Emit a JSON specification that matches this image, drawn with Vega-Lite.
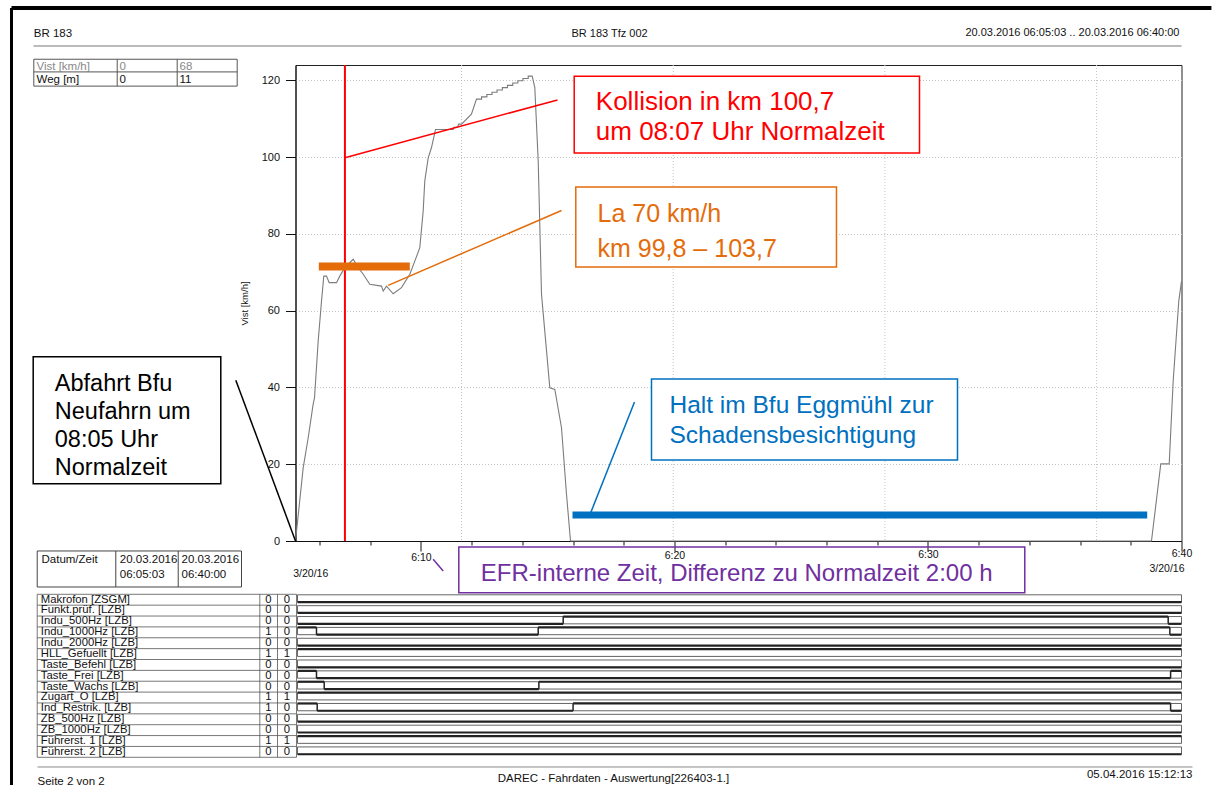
{
  "$schema": "https://vega.github.io/schema/vega-lite/v6.json",
  "padding": {"left": 8.5, "top": 5, "right": 0, "bottom": 0},
  "background": "white",
  "bounds": "flush",
  "spacing": 53.3,
  "config": {"font": "Liberation Sans", "view": {"stroke": null}},
  "datasets": {
    "speed": [
      {"t":5.05,"v":0},{"t":5.354,"v":19.1},{"t":5.551,"v":26.9},{"t":5.748,"v":35.7},{"t":5.8,"v":37.3},{"t":5.945,"v":52.1},{"t":6.076,"v":62.5},{"t":6.166,"v":69.0},{"t":6.273,"v":69.0},{"t":6.379,"v":67.3},{"t":6.667,"v":67.3},{"t":6.797,"v":69.0},{"t":6.995,"v":71.2},{"t":7.326,"v":73.4},{"t":7.523,"v":71.2},{"t":7.721,"v":69.5},{"t":7.981,"v":66.9},{"t":8.443,"v":66.4},{"t":8.51,"v":65.1},{"t":8.64,"v":66.4},{"t":8.904,"v":64.4},{"t":9.231,"v":66.0},{"t":9.559,"v":69.5},{"t":9.756,"v":72.9},{"t":9.953,"v":76.4},{"t":10.087,"v":86.0},{"t":10.15,"v":93.8},{"t":10.285,"v":99.8},{"t":10.415,"v":102.5},{"t":10.573,"v":107.2},{"t":11.27,"v":107.2},{"t":11.3,"v":107.8},{"t":11.45,"v":107.8},{"t":11.48,"v":108.6},{"t":11.6,"v":108.6},{"t":11.99,"v":111.2},{"t":12.19,"v":115.1},
      {"t":12.39,"v":115.1},{"t":12.39,"v":115.7},{"t":12.6,"v":115.7},{"t":12.6,"v":116.3},{"t":12.8,"v":116.3},{"t":12.8,"v":116.9},{"t":13.0,"v":116.9},{"t":13.0,"v":117.5},{"t":13.21,"v":117.5},{"t":13.21,"v":118.1},{"t":13.41,"v":118.1},{"t":13.41,"v":118.7},{"t":13.62,"v":118.7},{"t":13.62,"v":119.3},{"t":13.82,"v":119.3},{"t":13.82,"v":119.9},{"t":14.02,"v":119.9},{"t":14.02,"v":120.5},{"t":14.23,"v":120.5},{"t":14.23,"v":121.1},{"t":14.387,"v":121.1},
      {"t":14.49,"v":118.1},{"t":14.624,"v":99.0},{"t":14.754,"v":64.3},{"t":15.082,"v":39.9},{"t":15.28,"v":39.5},{"t":15.543,"v":29.5},{"t":15.74,"v":12.2},{"t":15.898,"v":0},{"t":38.816,"v":0},{"t":39.183,"v":20.1},{"t":39.515,"v":20.1},{"t":39.672,"v":41.7},{"t":39.893,"v":62.5},{"t":40.0,"v":67.7}
    ],
    "xgrid": [{"t":11.6},{"t":19.95},{"t":28.3},{"t":36.65}],
    "signals": [
      {"row":0,"name":"Makrofon [ZSGM]","v1":"0","v2":"0"},
      {"row":1,"name":"Funkt.prüf. [LZB]","v1":"0","v2":"0"},
      {"row":2,"name":"Indu_500Hz [LZB]","v1":"0","v2":"0"},
      {"row":3,"name":"Indu_1000Hz [LZB]","v1":"1","v2":"0"},
      {"row":4,"name":"Indu_2000Hz [LZB]","v1":"0","v2":"0"},
      {"row":5,"name":"HLL_Gefuellt [LZB]","v1":"1","v2":"1"},
      {"row":6,"name":"Taste_Befehl [LZB]","v1":"0","v2":"0"},
      {"row":7,"name":"Taste_Frei [LZB]","v1":"0","v2":"0"},
      {"row":8,"name":"Taste_Wachs [LZB]","v1":"0","v2":"0"},
      {"row":9,"name":"Zugart_O [LZB]","v1":"1","v2":"1"},
      {"row":10,"name":"Ind_Restrik. [LZB]","v1":"1","v2":"0"},
      {"row":11,"name":"ZB_500Hz [LZB]","v1":"0","v2":"0"},
      {"row":12,"name":"ZB_1000Hz [LZB]","v1":"0","v2":"0"},
      {"row":13,"name":"Führerst. 1 [LZB]","v1":"1","v2":"1"},
      {"row":14,"name":"Führerst. 2 [LZB]","v1":"0","v2":"0"}
    ],
    "seg": [
      {"row":0,"t1":5.13,"t2":40,"lvl":0},
      {"row":1,"t1":5.13,"t2":40,"lvl":0},
      {"row":2,"t1":5.13,"t2":15.61,"lvl":0},{"row":2,"t1":15.61,"t2":39.475,"lvl":1},{"row":2,"t1":39.475,"t2":40,"lvl":0},
      {"row":3,"t1":5.13,"t2":5.878,"lvl":1},{"row":3,"t1":5.878,"t2":14.624,"lvl":0},{"row":3,"t1":14.624,"t2":39.54,"lvl":1},{"row":3,"t1":39.54,"t2":40,"lvl":0},
      {"row":4,"t1":5.13,"t2":40,"lvl":0},
      {"row":5,"t1":5.13,"t2":40,"lvl":1},
      {"row":6,"t1":5.13,"t2":40,"lvl":0},
      {"row":7,"t1":5.13,"t2":5.878,"lvl":1},{"row":7,"t1":5.878,"t2":39.57,"lvl":0},{"row":7,"t1":39.57,"t2":40,"lvl":1},
      {"row":8,"t1":5.13,"t2":6.182,"lvl":1},{"row":8,"t1":6.182,"t2":14.65,"lvl":0},{"row":8,"t1":14.65,"t2":40,"lvl":1},
      {"row":9,"t1":5.13,"t2":40,"lvl":1},
      {"row":10,"t1":5.13,"t2":5.906,"lvl":1},{"row":10,"t1":5.906,"t2":16.0,"lvl":0},{"row":10,"t1":16.0,"t2":39.57,"lvl":1},{"row":10,"t1":39.57,"t2":40,"lvl":0},
      {"row":11,"t1":5.13,"t2":40,"lvl":0},
      {"row":12,"t1":5.13,"t2":40,"lvl":0},
      {"row":13,"t1":5.13,"t2":40,"lvl":1},
      {"row":14,"t1":5.13,"t2":40,"lvl":0}
    ],
    "trans": [
      {"row":2,"t":15.61},{"row":2,"t":39.475},
      {"row":3,"t":5.878},{"row":3,"t":14.624},{"row":3,"t":39.54},
      {"row":7,"t":5.878},{"row":7,"t":39.57},
      {"row":8,"t":6.182},{"row":8,"t":14.65},
      {"row":10,"t":5.906},{"row":10,"t":16.0},{"row":10,"t":39.57}
    ]
  },
  "vconcat": [
    {
      "width": 886,
      "height": 476,
      "view": {"stroke": "#222", "strokeWidth": 1},
      "data": {"values": [{}]},
      "layer": [
        {
          "data": {"name": "xgrid"},
          "mark": {"type": "rule", "color": "#c4c4c4", "strokeDash": [1, 2], "strokeWidth": 1},
          "encoding": {"x": {"field": "t", "type": "quantitative", "title": null}}
        },
        {
          "data": {"name": "speed"},
          "mark": {"type": "line", "color": "#7c7c7c", "strokeWidth": 1.1},
          "encoding": {
            "x": {
              "field": "t", "type": "quantitative", "title": null,
              "scale": {"domain": [5.05, 40], "nice": false, "zero": false},
              "axis": {
                "values": [6,7,8,9,10,11,12,13,14,15,16,17,18,19,20,21,22,23,24,25,26,27,28,29,30,31,32,33,34,35,36,37,38,39,40],
                "labelExpr": "datum.value % 10 === 0 ? '6:' + datum.value : ''",
                "tickSize": {"condition": [{"test": "datum.value % 10 === 0", "value": 10}, {"test": "datum.value % 5 === 0", "value": 7}], "value": 4},
                "labelPadding": {"condition": [{"test": "datum.value >= 40", "value": -3}, {"test": "datum.value >= 30", "value": -2}, {"test": "datum.value >= 20", "value": -1}], "value": 1},
                "tickColor": "#111", "domainColor": "#111", "labelColor": "#111",
                "labelFontSize": 10.5, "labelFlush": false, "labelOverlap": false,
                "grid": false, "title": null
              }
            },
            "y": {
              "field": "v", "type": "quantitative", "title": "Vist [km/h]",
              "scale": {"domain": [0, 124], "nice": false},
              "axis": {
                "values": [0,5,10,15,20,25,30,35,40,45,50,55,60,65,70,75,80,85,90,95,100,105,110,115,120],
                "labelExpr": "datum.value % 20 === 0 ? datum.label : ''",
                "tickSize": {"condition": {"test": "datum.value % 20 === 0", "value": 10}, "value": 5},
                "grid": true, "gridColor": "#c4c4c4", "gridDash": [1, 2],
                "gridOpacity": {"condition": {"test": "datum.value % 20 === 0 && datum.value > 0", "value": 1}, "value": 0},
                "tickColor": "#111", "domainColor": "#111", "labelColor": "#111",
                "labelFontSize": 11, "labelPadding": 6, "labelOverlap": false,
                "titleFontSize": 9.5, "titleFontWeight": "normal", "titleColor": "#111", "titlePadding": 12
              }
            },
            "order": {"value": null}
          }
        },
        {
          "mark": {"type": "rule", "color": "#FF0000", "strokeWidth": 2},
          "encoding": {"x": {"datum": 7.0}}
        },
        {
          "mark": {"type": "rule", "color": "#FF0000", "strokeWidth": 1.5},
          "encoding": {"x": {"datum": 7.0}, "y": {"datum": 99.85}, "x2": {"datum": 15.385}, "y2": {"datum": 114.9}}
        },
        {
          "mark": {"type": "rect", "fill": "white", "stroke": "#FF0000", "strokeWidth": 1.5},
          "encoding": {"x": {"datum": 16.044}, "x2": {"datum": 29.665}, "y": {"datum": 121.1}, "y2": {"datum": 101.1}}
        },
        {
          "mark": {"type": "text", "text": ["Kollision in km 100,7", "um 08:07 Uhr Normalzeit"], "align": "left", "baseline": "alphabetic", "fontSize": 26, "lineHeight": 30, "color": "#FF0000"},
          "encoding": {"x": {"datum": 16.896}, "y": {"datum": 112.2}}
        },
        {
          "mark": {"type": "rule", "color": "#E46C0A", "strokeWidth": 8},
          "encoding": {"x": {"datum": 5.969}, "x2": {"datum": 9.559}, "y": {"datum": 71.5}}
        },
        {
          "mark": {"type": "rule", "color": "#E46C0A", "strokeWidth": 1.5},
          "encoding": {"x": {"datum": 8.707}, "y": {"datum": 66.6}, "x2": {"datum": 15.543}, "y2": {"datum": 86.1}}
        },
        {
          "mark": {"type": "rect", "fill": "white", "stroke": "#E46C0A", "strokeWidth": 1.5},
          "encoding": {"x": {"datum": 16.107}, "x2": {"datum": 26.39}, "y": {"datum": 92.2}, "y2": {"datum": 71.4}}
        },
        {
          "mark": {"type": "text", "text": ["La 70 km/h", "km 99,8 – 103,7"], "align": "left", "baseline": "alphabetic", "fontSize": 25, "lineHeight": 35, "color": "#E46C0A"},
          "encoding": {"x": {"datum": 16.963}, "y": {"datum": 83.23}}
        },
        {
          "mark": {"type": "rule", "color": "#0070C0", "strokeWidth": 7},
          "encoding": {"x": {"datum": 15.977}, "x2": {"datum": 38.647}, "y": {"datum": 6.77}}
        },
        {
          "mark": {"type": "rule", "color": "#0070C0", "strokeWidth": 1.5},
          "encoding": {"x": {"datum": 16.659}, "y": {"datum": 6.77}, "x2": {"datum": 18.423}, "y2": {"datum": 36.2}}
        },
        {
          "mark": {"type": "rect", "fill": "white", "stroke": "#0070C0", "strokeWidth": 1.5},
          "encoding": {"x": {"datum": 19.093}, "x2": {"datum": 31.164}, "y": {"datum": 42.2}, "y2": {"datum": 21.1}}
        },
        {
          "mark": {"type": "text", "text": ["Halt im Bfu Eggmühl zur", "Schadensbesichtigung"], "align": "left", "baseline": "alphabetic", "fontSize": 24.5, "lineHeight": 30, "color": "#0070C0"},
          "encoding": {"x": {"datum": 19.803}, "y": {"datum": 33.4}}
        },
        {
          "mark": {"type": "rule", "color": "#000", "strokeWidth": 1.5},
          "encoding": {"x": {"datum": 2.695}, "y": {"datum": 41.9}, "x2": {"datum": 5.05}, "y2": {"datum": 0}}
        },
        {
          "mark": {"type": "rect", "fill": "white", "stroke": "#000", "strokeWidth": 1.5},
          "encoding": {"x": {"datum": -5.297}, "x2": {"datum": 2.103}, "y": {"datum": 48.0}, "y2": {"datum": 14.9}}
        },
        {
          "mark": {"type": "text", "text": ["Abfahrt Bfu", "Neufahrn um", "08:05 Uhr", "Normalzeit"], "align": "left", "baseline": "alphabetic", "fontSize": 23.5, "lineHeight": 27.8, "color": "#000"},
          "encoding": {"x": {"datum": -4.445}, "y": {"datum": 39.02}}
        },
        {
          "mark": {"type": "rule", "color": "#7030A0", "strokeWidth": 1.5},
          "encoding": {"x": {"datum": 10.48}, "y": {"datum": -4.77}, "x2": {"datum": 10.876}, "y2": {"datum": -7.8}}
        },
        {
          "mark": {"type": "rect", "fillOpacity": 0, "fill": "white", "stroke": "#7030A0", "strokeWidth": 1.5},
          "encoding": {"x": {"datum": 11.492}, "x2": {"datum": 33.818}, "y": {"datum": -1.56}, "y2": {"datum": -13.47}}
        },
        {
          "mark": {"type": "text", "text": "EFR-interne Zeit, Differenz zu Normalzeit 2:00 h", "align": "left", "baseline": "alphabetic", "fontSize": 24, "color": "#7030A0"},
          "encoding": {"x": {"datum": 12.36}, "y": {"datum": -10.3}}
        },
        {
          "mark": {"type": "text", "text": "3/20/16", "align": "left", "baseline": "alphabetic", "fontSize": 10.5, "color": "#111"},
          "encoding": {"x": {"datum": 4.959}, "y": {"datum": -9.25}}
        },
        {
          "mark": {"type": "text", "text": "3/20/16", "align": "right", "baseline": "alphabetic", "fontSize": 10.5, "color": "#111"},
          "encoding": {"x": {"datum": 40.118}, "y": {"datum": -8.1}}
        },
        {
          "mark": {"type": "rect", "fillOpacity": 0, "fill": "white", "stroke": "#555", "strokeWidth": 1},
          "encoding": {"x": {"datum": -5.273}, "x2": {"datum": 2.75}, "y": {"datum": 125.5}, "y2": {"datum": 118.5}}
        },
        {
          "mark": {"type": "rule", "color": "#555", "strokeWidth": 1},
          "encoding": {"x": {"datum": -5.273}, "x2": {"datum": 2.75}, "y": {"datum": 122.2}}
        },
        {
          "mark": {"type": "rule", "color": "#555", "strokeWidth": 1},
          "encoding": {"x": {"datum": -1.983}, "y": {"datum": 125.5}, "y2": {"datum": 118.5}}
        },
        {
          "mark": {"type": "rule", "color": "#555", "strokeWidth": 1},
          "encoding": {"x": {"datum": 0.383}, "y": {"datum": 125.5}, "y2": {"datum": 118.5}}
        },
        {
          "mark": {"type": "text", "text": "Vist [km/h]", "align": "left", "baseline": "alphabetic", "fontSize": 11.5, "color": "#888"},
          "encoding": {"x": {"datum": -5.167}, "y": {"datum": 122.7}}
        },
        {
          "mark": {"type": "text", "text": "0", "align": "left", "baseline": "alphabetic", "fontSize": 11.5, "color": "#888"},
          "encoding": {"x": {"datum": -1.893}, "y": {"datum": 122.7}}
        },
        {
          "mark": {"type": "text", "text": "68", "align": "left", "baseline": "alphabetic", "fontSize": 11.5, "color": "#888"},
          "encoding": {"x": {"datum": 0.474}, "y": {"datum": 122.7}}
        },
        {
          "mark": {"type": "text", "text": "Weg [m]", "align": "left", "baseline": "alphabetic", "fontSize": 11.5, "color": "#111"},
          "encoding": {"x": {"datum": -5.167}, "y": {"datum": 119.3}}
        },
        {
          "mark": {"type": "text", "text": "0", "align": "left", "baseline": "alphabetic", "fontSize": 11.5, "color": "#111"},
          "encoding": {"x": {"datum": -1.893}, "y": {"datum": 119.3}}
        },
        {
          "mark": {"type": "text", "text": "11", "align": "left", "baseline": "alphabetic", "fontSize": 11.5, "color": "#111"},
          "encoding": {"x": {"datum": 0.474}, "y": {"datum": 119.3}}
        },
        {
          "mark": {"type": "rect", "fillOpacity": 0, "fill": "white", "stroke": "#444", "strokeWidth": 1},
          "encoding": {"x": {"datum": -5.139}, "x2": {"datum": 2.92}, "y": {"datum": -2.6}, "y2": {"datum": -11.98}}
        },
        {
          "mark": {"type": "rule", "color": "#444", "strokeWidth": 1},
          "encoding": {"x": {"datum": -2.039}, "y": {"datum": -2.6}, "y2": {"datum": -11.98}}
        },
        {
          "mark": {"type": "rule", "color": "#444", "strokeWidth": 1},
          "encoding": {"x": {"datum": 0.423}, "y": {"datum": -2.6}, "y2": {"datum": -11.98}}
        },
        {
          "mark": {"type": "text", "text": "Datum/Zeit", "align": "left", "baseline": "alphabetic", "fontSize": 11.5, "color": "#111"},
          "encoding": {"x": {"datum": -4.97}, "y": {"datum": -5.84}}
        },
        {
          "mark": {"type": "text", "text": ["20.03.2016", "06:05:03"], "align": "left", "baseline": "alphabetic", "fontSize": 11.5, "lineHeight": 15, "color": "#111"},
          "encoding": {"x": {"datum": -1.88}, "y": {"datum": -5.84}}
        },
        {
          "mark": {"type": "text", "text": ["20.03.2016", "06:40:00"], "align": "left", "baseline": "alphabetic", "fontSize": 11.5, "lineHeight": 15, "color": "#111"},
          "encoding": {"x": {"datum": 0.553}, "y": {"datum": -5.84}}
        },
        {
          "mark": {"type": "text", "text": "BR 183", "align": "left", "baseline": "alphabetic", "fontSize": 11.5, "color": "#111"},
          "encoding": {"x": {"datum": -5.273}, "y": {"datum": 131.2}}
        },
        {
          "mark": {"type": "text", "text": "BR 183 Tfz 002", "align": "center", "baseline": "alphabetic", "fontSize": 11, "color": "#111"},
          "encoding": {"x": {"datum": 17.44}, "y": {"datum": 131.2}}
        },
        {
          "mark": {"type": "text", "text": "20.03.2016 06:05:03 .. 20.03.2016 06:40:00", "align": "right", "baseline": "alphabetic", "fontSize": 11, "color": "#111"},
          "encoding": {"x": {"datum": 39.92}, "y": {"datum": 131.5}}
        },
        {
          "mark": {"type": "rule", "color": "#777", "strokeWidth": 1},
          "encoding": {"x": {"datum": -5.285}, "x2": {"datum": 40.0}, "y": {"datum": 128.95}}
        },
        {
          "mark": {"type": "rule", "color": "#000", "strokeWidth": 4},
          "encoding": {"x": {"datum": -6.153}, "x2": {"datum": 41.18}, "y": {"datum": 138.85}}
        },
        {
          "mark": {"type": "rule", "color": "#000", "strokeWidth": 3},
          "encoding": {"x": {"datum": -6.153}, "y": {"datum": 138.85}, "y2": {"datum": -63.56}}
        }
      ]
    },
    {
      "width": 886,
      "height": 163,
      "view": {"stroke": null},
      "data": {"values": [{}]},
      "layer": [
        {
          "data": {"name": "signals"},
          "mark": {"type": "rule", "color": "#555", "strokeWidth": 0.8},
          "encoding": {
            "x": {"datum": -5.139, "scale": {"domain": [5.05, 40], "nice": false, "zero": false}, "axis": null},
            "x2": {"datum": 5.09},
            "y": {"field": "row", "type": "quantitative", "scale": {"domain": [0, 15], "reverse": true, "nice": false, "zero": false}, "axis": null}
          }
        },
        {
          "mark": {"type": "rule", "color": "#555", "strokeWidth": 0.8},
          "encoding": {"x": {"datum": -5.139, "axis": null}, "x2": {"datum": 5.09}, "y": {"datum": 15, "axis": null}}
        },
        {
          "mark": {"type": "rule", "color": "#555", "strokeWidth": 0.8},
          "encoding": {"x": {"datum": -5.139, "axis": null}, "y": {"datum": 0, "axis": null}, "y2": {"datum": 15}}
        },
        {
          "mark": {"type": "rule", "color": "#555", "strokeWidth": 0.8},
          "encoding": {"x": {"datum": 3.642, "axis": null}, "y": {"datum": 0, "axis": null}, "y2": {"datum": 15}}
        },
        {
          "mark": {"type": "rule", "color": "#555", "strokeWidth": 0.8},
          "encoding": {"x": {"datum": 4.34, "axis": null}, "y": {"datum": 0, "axis": null}, "y2": {"datum": 15}}
        },
        {
          "mark": {"type": "rule", "color": "#555", "strokeWidth": 0.8},
          "encoding": {"x": {"datum": 5.09, "axis": null}, "y": {"datum": 0, "axis": null}, "y2": {"datum": 15}}
        },
        {
          "data": {"name": "signals"},
          "mark": {"type": "text", "align": "left", "baseline": "middle", "fontSize": 11.3, "color": "#111", "yOffset": 5.3},
          "encoding": {"x": {"datum": -4.997, "axis": null}, "y": {"field": "row", "type": "quantitative", "axis": null}, "text": {"field": "name"}}
        },
        {
          "data": {"name": "signals"},
          "mark": {"type": "text", "align": "center", "baseline": "middle", "fontSize": 11.3, "color": "#111", "yOffset": 5.3},
          "encoding": {"x": {"datum": 3.985, "axis": null}, "y": {"field": "row", "type": "quantitative", "axis": null}, "text": {"field": "v1"}}
        },
        {
          "data": {"name": "signals"},
          "mark": {"type": "text", "align": "center", "baseline": "middle", "fontSize": 11.3, "color": "#111", "yOffset": 5.3},
          "encoding": {"x": {"datum": 4.715, "axis": null}, "y": {"field": "row", "type": "quantitative", "axis": null}, "text": {"field": "v2"}}
        },
        {
          "data": {"name": "signals"},
          "mark": {"type": "rect", "fillOpacity": 0, "fill": "white", "stroke": "#555", "strokeWidth": 0.9, "yOffset": 0.5, "y2Offset": 7.8},
          "encoding": {"x": {"datum": 5.13, "axis": null}, "x2": {"datum": 40}, "y": {"field": "row", "type": "quantitative", "axis": null}, "y2": {"field": "row"}}
        },
        {
          "data": {"name": "seg"},
          "transform": [{"filter": "datum.lvl == 0"}],
          "mark": {"type": "rule", "color": "#222", "strokeWidth": 2.2, "yOffset": 7.8},
          "encoding": {"x": {"field": "t1", "type": "quantitative", "axis": null}, "x2": {"field": "t2"}, "y": {"field": "row", "type": "quantitative", "axis": null}}
        },
        {
          "data": {"name": "seg"},
          "transform": [{"filter": "datum.lvl == 1"}],
          "mark": {"type": "rule", "color": "#222", "strokeWidth": 2.2, "yOffset": 0.5},
          "encoding": {"x": {"field": "t1", "type": "quantitative", "axis": null}, "x2": {"field": "t2"}, "y": {"field": "row", "type": "quantitative", "axis": null}}
        },
        {
          "data": {"name": "trans"},
          "mark": {"type": "rule", "color": "#222", "strokeWidth": 1.5, "yOffset": 0.5, "y2Offset": 7.8},
          "encoding": {"x": {"field": "t", "type": "quantitative", "axis": null}, "y": {"field": "row", "type": "quantitative", "axis": null}, "y2": {"field": "row"}}
        },
        {
          "mark": {"type": "rule", "color": "#888", "strokeWidth": 1},
          "encoding": {"x": {"datum": -5.127, "axis": null}, "x2": {"datum": 40.434}, "y": {"datum": 15.89, "axis": null}}
        },
        {
          "mark": {"type": "text", "text": "Seite 2 von 2", "align": "left", "baseline": "alphabetic", "fontSize": 11.5, "color": "#111"},
          "encoding": {"x": {"datum": -5.127, "axis": null}, "y": {"datum": 17.55, "axis": null}}
        },
        {
          "mark": {"type": "text", "text": "DAREC - Fahrdaten - Auswertung[226403-1.]", "align": "center", "baseline": "alphabetic", "fontSize": 11.5, "color": "#111"},
          "encoding": {"x": {"datum": 17.594, "axis": null}, "y": {"datum": 17.27, "axis": null}}
        },
        {
          "mark": {"type": "text", "text": "05.04.2016 15:12:13", "align": "right", "baseline": "alphabetic", "fontSize": 11.5, "color": "#111"},
          "encoding": {"x": {"datum": 40.434, "axis": null}, "y": {"datum": 16.95, "axis": null}}
        }
      ]
    }
  ]
}
